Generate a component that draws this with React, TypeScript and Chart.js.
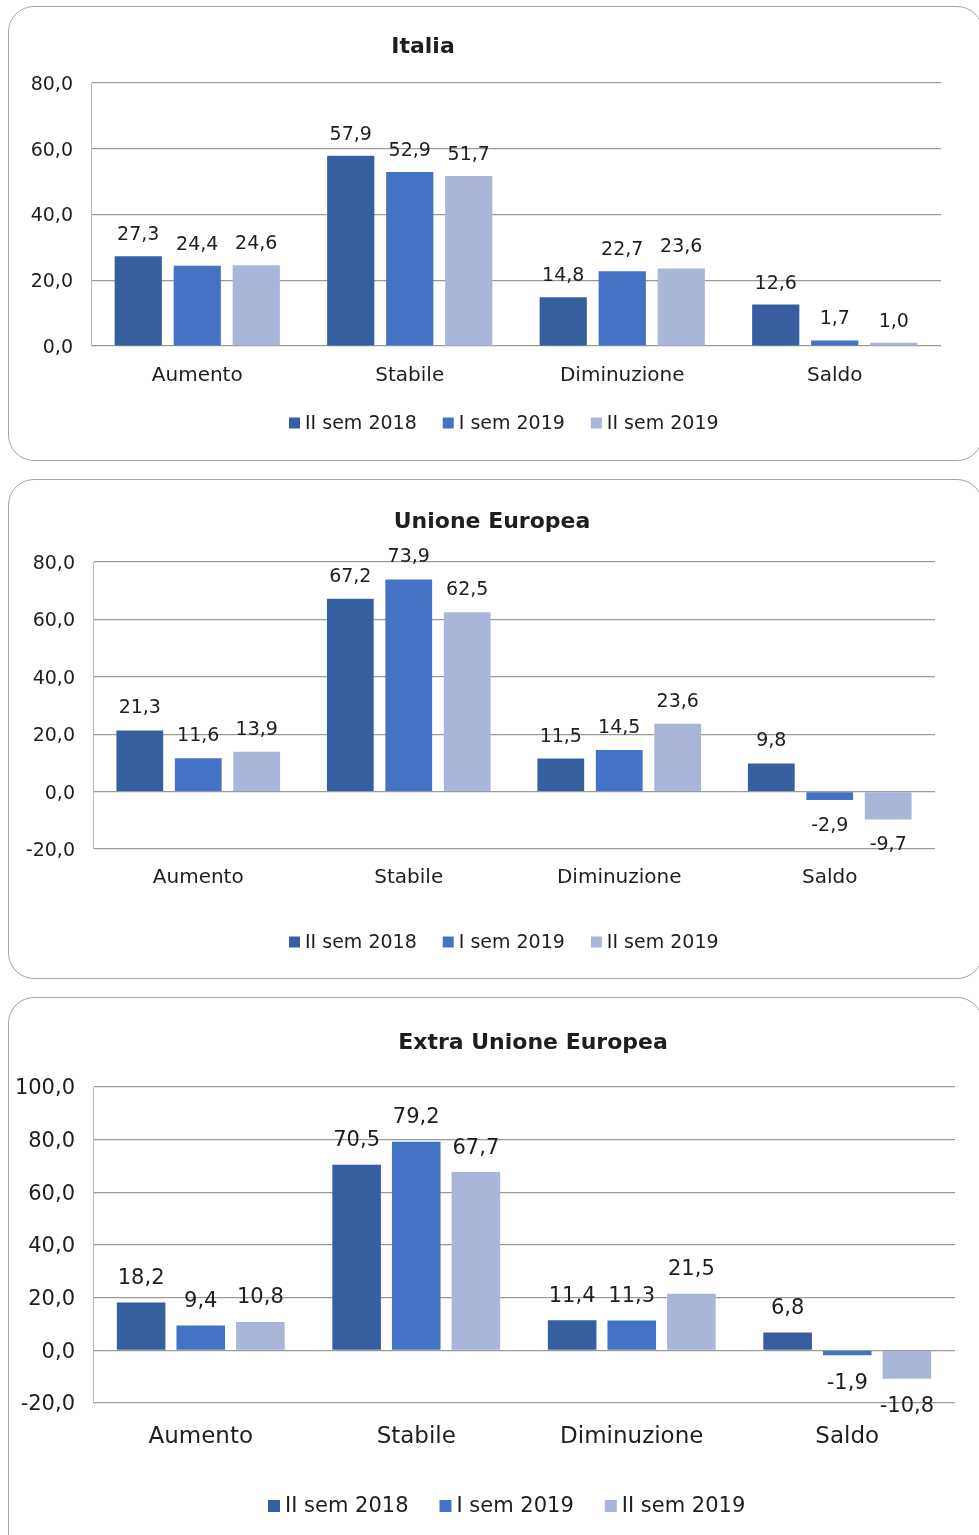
import React, { useEffect, useRef } from "react";
import { Chart, registerables } from "chart.js";

Chart.register(...registerables);

const categories = ["Aumento", "Stabile", "Diminuzione", "Saldo"];
const seriesLabels = ["II sem 2018", "I sem 2019", "II sem 2019"];
const seriesColors = ["#375E9F", "#4472C4", "#A9B6DA"];

const italiaIIsem2018 = [27.3, 57.9, 14.8, 12.6];
const italiaIsem2019 = [24.4, 52.9, 22.7, 1.7];
const italiaIIsem2019 = [24.6, 51.7, 23.6, 1.0];

const ueIIsem2018 = [21.3, 67.2, 11.5, 9.8];
const ueIsem2019 = [11.6, 73.9, 14.5, -2.9];
const ueIIsem2019 = [13.9, 62.5, 23.6, -9.7];

const extraIIsem2018 = [18.2, 70.5, 11.4, 6.8];
const extraIsem2019 = [9.4, 79.2, 11.3, -1.9];
const extraIIsem2019 = [10.8, 67.7, 21.5, -10.8];

const FONT = '"DejaVu Sans", sans-serif';
const TEXT = "#1e1e1e";
const fmt = (v: number) => v.toFixed(1).replace(".", ",");

const overlayPlugin = {
  id: "overlay",
  afterDraw(chart: any, _args: any, opts: any) {
    const ctx = chart.ctx;
    ctx.save();
    ctx.fillStyle = TEXT;
    ctx.textAlign = "center";
    ctx.textBaseline = "middle";
    ctx.font = `bold ${opts.titleSize}px ${FONT}`;
    ctx.fillText(opts.title, opts.titleX, opts.titleY);

    ctx.font = `${opts.labelSize}px ${FONT}`;
    chart.data.datasets.forEach((ds: any, i: number) => {
      const meta = chart.getDatasetMeta(i);
      meta.data.forEach((bar: any, j: number) => {
        const v = ds.data[j];
        const y = (v >= 0 ? bar.y - opts.labelOffset : bar.y + opts.labelOffset) + 2;
        ctx.fillText(fmt(v), bar.x, y);
      });
    });

    ctx.font = `${opts.legendSize}px ${FONT}`;
    ctx.textAlign = "left";
    let x = opts.legendX;
    chart.data.datasets.forEach((ds: any) => {
      ctx.fillStyle = ds.backgroundColor;
      ctx.fillRect(x, opts.legendY - opts.box / 2, opts.box, opts.box);
      x += opts.box + opts.boxGap;
      ctx.fillStyle = TEXT;
      ctx.fillText(ds.label, x, opts.legendY + 1);
      x += ctx.measureText(ds.label).width + opts.itemGap;
    });
    ctx.restore();
  },
};

type PanelProps = {
  title: string;
  series: number[][];
  top: number;
  height: number;
  area: { l: number; r: number; t: number; b: number };
  yMin: number;
  yMax: number;
  tickSize: number;
  catSize: number;
  catPad: number;
  labelSize: number;
  labelOffset: number;
  titleX: number;
  titleY: number;
  legendX: number;
  legendY: number;
  legendSize: number;
  box: number;
  itemGap: number;
  catPct: number;
  barPct: number;
};

function ChartPanel(p: PanelProps) {
  const ref = useRef<HTMLCanvasElement>(null);
  useEffect(() => {
    if (!ref.current) return;
    const W = 979;
    const xAxisH = 60;
    const chart = new Chart(ref.current, {
      type: "bar",
      data: {
        labels: categories,
        datasets: p.series.map((d, i) => ({
          label: seriesLabels[i],
          data: d,
          backgroundColor: seriesColors[i],
          categoryPercentage: p.catPct,
          barPercentage: p.barPct,
        })),
      },
      options: {
        responsive: false,
        animation: false,
        events: [],
        layout: {
          padding: {
            left: 0,
            right: W - p.area.r,
            top: p.area.t - p.top,
            bottom: p.top + p.height - p.area.b - xAxisH,
          },
        },
        plugins: {
          legend: { display: false },
          title: { display: false },
          tooltip: { enabled: false },
          overlay: {
            title: p.title,
            titleSize: 22,
            titleX: p.titleX,
            titleY: p.titleY - p.top + 1,
            labelSize: p.labelSize,
            labelOffset: p.labelOffset,
            legendX: p.legendX,
            legendY: p.legendY - p.top + 1,
            legendSize: p.legendSize,
            box: p.box,
            boxGap: 5,
            itemGap: p.itemGap,
          },
        } as any,
        scales: {
          x: {
            grid: { display: false },
            border: { display: false },
            ticks: {
              color: TEXT,
              font: { family: FONT, size: p.catSize },
              padding: p.catPad,
              maxRotation: 0,
            },
            afterFit: (s: any) => {
              s.height = xAxisH;
            },
          },
          y: {
            min: p.yMin,
            max: p.yMax,
            ticks: {
              stepSize: 20,
              color: TEXT,
              font: { family: FONT, size: p.tickSize },
              padding: 18,
              labelOffset: 2,
              callback: (v: any) => fmt(Number(v)),
            },
            grid: { color: "#9a9a9a", lineWidth: 1.2, drawTicks: false },
            border: { display: true, color: "#b8b8b8", width: 1 },
            afterFit: (s: any) => {
              s.width = p.area.l;
            },
          },
        },
      },
      plugins: [overlayPlugin as any],
    });
    return () => chart.destroy();
  }, []);
  return (
    <canvas
      ref={ref}
      width={979}
      height={p.height}
      style={{ position: "absolute", left: 0, top: p.top, width: 979, height: p.height }}
    />
  );
}

const frame = (top: number, height: number): React.CSSProperties => ({
  position: "absolute",
  left: 8,
  top,
  width: 975,
  height,
  boxSizing: "border-box",
  border: "1.5px solid #a6a6a6",
  borderRadius: 26,
  background: "#fff",
});

export default function App() {
  return (
    <div
      style={{
        position: "absolute",
        left: 0,
        top: 0,
        width: 979,
        height: 1535,
        overflow: "hidden",
        background: "#fff",
      }}
    >
      <div style={frame(6, 455)} />
      <div style={frame(479, 500)} />
      <div style={frame(997, 600)} />
      <ChartPanel
        title="Italia"
        series={[italiaIIsem2018, italiaIsem2019, italiaIIsem2019]}
        top={10}
        height={445}
        area={{ l: 91, r: 941, t: 83, b: 346 }}
        yMin={0}
        yMax={80}
        tickSize={19}
        catSize={20}
        catPad={10}
        labelSize={19}
        labelOffset={23}
        titleX={423}
        titleY={46}
        legendX={289}
        legendY={422}
        legendSize={19}
        box={11}
        itemGap={26}
        catPct={0.833}
        barPct={0.8}
      />
      <ChartPanel
        title="Unione Europea"
        series={[ueIIsem2018, ueIsem2019, ueIIsem2019]}
        top={484}
        height={490}
        area={{ l: 93, r: 935, t: 562, b: 849 }}
        yMin={-20}
        yMax={80}
        tickSize={19}
        catSize={20}
        catPad={9}
        labelSize={19}
        labelOffset={24}
        titleX={492}
        titleY={521}
        legendX={289}
        legendY={941}
        legendSize={19}
        box={11}
        itemGap={26}
        catPct={0.833}
        barPct={0.8}
      />
      <ChartPanel
        title="Extra Unione Europea"
        series={[extraIIsem2018, extraIsem2019, extraIIsem2019]}
        top={1002}
        height={533}
        area={{ l: 93, r: 955, t: 1087, b: 1403 }}
        yMin={-20}
        yMax={100}
        tickSize={21}
        catSize={23}
        catPad={12}
        labelSize={21}
        labelOffset={26}
        titleX={533}
        titleY={1042}
        legendX={268}
        legendY={1505}
        legendSize={21}
        box={12}
        itemGap={31}
        catPct={0.83}
        barPct={0.815}
      />
    </div>
  );
}
